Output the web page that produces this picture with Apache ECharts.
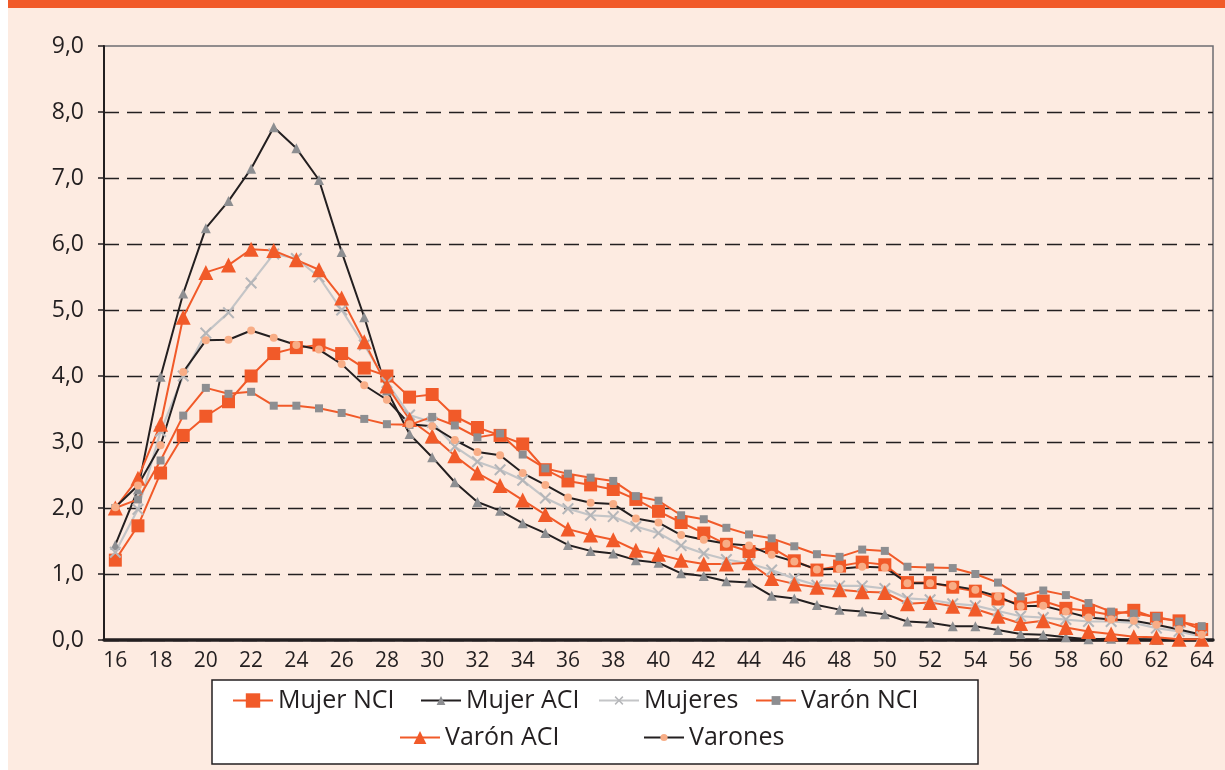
<!DOCTYPE html>
<html>
<head>
<meta charset="utf-8">
<script src="https://cdn.jsdelivr.net/npm/echarts@6/dist/echarts.min.js"></script>
<style>
  html, body { margin: 0; padding: 0; background: #fff; }
  #main { width: 1225px; height: 770px; }
</style>
</head>
<body>
<div id="main"></div>
<script>
// edades 16..64
var edades = [];
for (var e = 16; e <= 64; e++) { edades.push(String(e)); }

var yTicks = [0, 1, 2, 3, 4, 5, 6, 7, 8, 9];

var mujerNCI = [1.21,1.73,2.53,3.10,3.39,3.61,4.00,4.34,4.43,4.47,4.34,4.12,4.00,3.68,3.72,3.39,3.22,3.10,2.97,2.58,
  2.41,2.35,2.28,2.13,1.95,1.78,1.62,1.45,1.34,1.40,1.20,1.06,1.12,1.18,1.14,0.87,0.87,0.80,0.74,0.62,
  0.55,0.59,0.48,0.44,0.38,0.45,0.33,0.29,0.16];
var mujerACI = [1.44,2.28,3.99,5.25,6.24,6.65,7.14,7.77,7.45,6.97,5.88,4.89,3.78,3.12,2.77,2.39,2.09,1.96,1.77,1.62,
  1.44,1.35,1.31,1.21,1.17,1.01,0.97,0.89,0.87,0.67,0.63,0.53,0.46,0.43,0.39,0.28,0.26,0.21,0.21,0.15,
  0.09,0.08,0.04,0.01,0.02,0.01,0.00,0.00,0.00];
var mujeres = [1.33,1.98,3.16,4.00,4.65,4.96,5.41,5.85,5.78,5.50,5.00,4.47,3.90,3.41,3.30,2.93,2.70,2.58,2.42,2.15,
  1.99,1.89,1.87,1.72,1.62,1.43,1.31,1.22,1.16,1.06,0.93,0.83,0.82,0.82,0.78,0.63,0.61,0.55,0.52,0.44,
  0.36,0.34,0.31,0.28,0.28,0.26,0.18,0.13,0.05];
var varonNCI = [2.00,2.13,2.72,3.40,3.82,3.73,3.76,3.55,3.55,3.51,3.44,3.35,3.27,3.26,3.38,3.25,3.07,3.13,2.81,2.60,
  2.52,2.46,2.41,2.18,2.11,1.89,1.83,1.70,1.60,1.54,1.42,1.30,1.26,1.37,1.35,1.11,1.10,1.09,1.00,0.87,
  0.66,0.75,0.68,0.56,0.43,0.40,0.35,0.28,0.21];
var varonACI = [2.00,2.45,3.27,4.89,5.57,5.68,5.92,5.90,5.76,5.61,5.18,4.52,3.85,3.34,3.09,2.79,2.53,2.34,2.12,1.90,
  1.68,1.59,1.52,1.36,1.30,1.21,1.15,1.15,1.17,0.93,0.85,0.80,0.76,0.73,0.72,0.55,0.57,0.51,0.47,0.36,
  0.25,0.29,0.19,0.13,0.09,0.05,0.04,0.01,0.01];
var varones = [2.01,2.34,2.95,4.06,4.54,4.55,4.69,4.58,4.47,4.40,4.18,3.86,3.64,3.27,3.24,3.03,2.85,2.80,2.53,2.35,
  2.16,2.08,2.06,1.84,1.78,1.59,1.52,1.46,1.43,1.29,1.19,1.07,1.08,1.11,1.10,0.86,0.86,0.82,0.76,0.66,
  0.51,0.52,0.43,0.34,0.31,0.29,0.23,0.16,0.08];

var naranja = '#f15a29';
var negro = '#231f20';
var cruz = 'path://M0,1.2 L1.2,0 L5,3.8 L8.8,0 L10,1.2 L6.2,5 L10,8.8 L8.8,10 L5,6.2 L1.2,10 L0,8.8 L3.8,5 Z';
var fuente = 'Open Sans';

var myChart = echarts.init(document.getElementById('main'));

function leyenda(nombre, x, y, alto) {
    return {
        data: [nombre],
        left: x,
        top: y,
        padding: 0,
        itemWidth: 40,
        itemHeight: alto,
        textStyle: { fontFamily: fuente, fontSize: 25, color: negro },
        selectedMode: false
    };
}

var option = {
    backgroundColor: '#fdebe1',
    animation: false,
    graphic: [
        { type: 'rect', shape: { x: 0, y: 0, width: 8, height: 770 }, style: { fill: '#ffffff' }, z: 0 },
        { type: 'rect', shape: { x: 8, y: 0, width: 1217, height: 8 }, style: { fill: naranja }, z: 0 },
        { type: 'rect', shape: { x: 212, y: 680, width: 766, height: 84 },
          style: { fill: '#ffffff', stroke: negro, lineWidth: 1.5 }, z: 1 }
    ],
    legend: [
        leyenda('Mujer NCI', 232, 688, 18),
        leyenda('Mujer ACI', 420, 688, 11),
        leyenda('Mujeres', 598, 688, 11),
        leyenda('Varón NCI', 755, 688, 11),
        leyenda('Varón ACI', 399, 725, 16),
        leyenda('Varones', 643, 725, 9)
    ],
    grid: {
        left: 104, right: 12, top: 46, bottom: 130,
        show: true, borderColor: '#6d6e71', borderWidth: 1.5, backgroundColor: 'transparent'
    },
    xAxis: {
        type: 'category',
        data: edades,
        boundaryGap: true,
        axisLine: { lineStyle: { color: negro, width: 3.5 } },
        axisTick: { interval: 0, length: 8, lineStyle: { color: negro, width: 1.5 } },
        axisLabel: { interval: 1, fontFamily: fuente, fontSize: 21, color: negro, margin: 11 },
        splitLine: { show: false }
    },
    yAxis: {
        type: 'value',
        min: yTicks[0],
        max: yTicks[yTicks.length - 1],
        interval: 1,
        axisLine: { show: true, lineStyle: { color: negro, width: 2 } },
        axisTick: { show: true, length: 6, lineStyle: { color: negro, width: 1.5 } },
        axisLabel: {
            fontFamily: fuente, fontSize: 23, color: negro, margin: 20,
            formatter: function (v) { return v.toFixed(1).replace('.', ','); }
        },
        splitLine: { show: true, showMaxLine: false, lineStyle: { color: negro, width: 1.3, type: [15, 8] } }
    },
    series: [
        {
            name: 'Mujer NCI', type: 'line', data: mujerNCI,
            symbol: 'rect', symbolSize: 13,
            lineStyle: { color: naranja, width: 2 },
            itemStyle: { color: naranja }
        },
        {
            name: 'Mujer ACI', type: 'line', data: mujerACI,
            symbol: 'triangle', symbolSize: 10,
            lineStyle: { color: negro, width: 2 },
            itemStyle: { color: '#8d8e91' }
        },
        {
            name: 'Mujeres', type: 'line', data: mujeres,
            symbol: cruz, symbolSize: 12,
            lineStyle: { color: '#c4c5c7', width: 2.2 },
            itemStyle: { color: '#b5b6b9' }
        },
        {
            name: 'Varón NCI', type: 'line', data: varonNCI,
            symbol: 'rect', symbolSize: 8,
            lineStyle: { color: naranja, width: 2 },
            itemStyle: { color: '#8d8e91' }
        },
        {
            name: 'Varón ACI', type: 'line', data: varonACI,
            symbol: 'triangle', symbolSize: 15,
            lineStyle: { color: naranja, width: 2 },
            itemStyle: { color: naranja }
        },
        {
            name: 'Varones', type: 'line', data: varones,
            symbol: 'circle', symbolSize: 8,
            lineStyle: { color: negro, width: 2 },
            itemStyle: { color: '#f8ad86' }
        }
    ]
};

myChart.setOption(option);
</script>
</body>
</html>
